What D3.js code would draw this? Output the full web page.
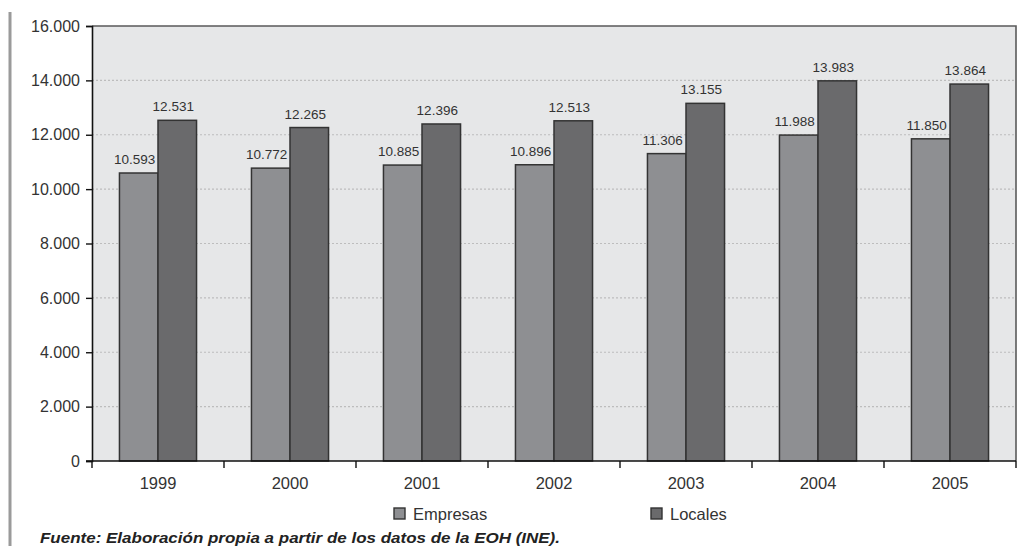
<!DOCTYPE html>
<html>
<head>
<meta charset="utf-8">
<script src="https://cdn.jsdelivr.net/npm/d3@7"></script>
<style>
  html, body { margin: 0; padding: 0; background: #fff; }
  svg { display: block; font-family: "Liberation Sans", Arial, sans-serif; }
</style>
</head>
<body>
<svg id="chart" width="1027" height="546"></svg>
<script>
// Empresas y locales por año
const years = ["1999", "2000", "2001", "2002", "2003", "2004", "2005"];
const seriesNames = ["Empresas", "Locales"];
const empresas = [10593, 10772, 10885, 10896, 11306, 11988, 11850];
const locales = [12531, 12265, 12396, 12513, 13155, 13983, 13864];
const yTicks = [0, 2000, 4000, 6000, 8000, 10000, 12000, 14000, 16000];
const sourceNote = "Fuente: Elaboración propia a partir de los datos de la EOH (INE).";

const colors = { Empresas: "#8e8f92", Locales: "#6a6a6c" };
const seriesValues = { Empresas: empresas, Locales: locales };

const svg = d3.select("#chart");
const plot = { left: 92, right: 1016, top: 26, bottom: 461 };

// Spanish-style thousands separator
const fmt = v => d3.format(",")(v).replace(/,/g, ".");

const x = d3.scaleBand().domain(years).range([plot.left, plot.right]).padding(0);
const xInner = d3.scaleBand().domain(seriesNames)
  .range([x.bandwidth() * 0.208, x.bandwidth() * 0.792]).padding(0);
const y = d3.scaleLinear().domain([0, 16000]).range([plot.bottom, plot.top]);

// page margin rule
svg.append("line")
  .attr("x1", 10).attr("x2", 10).attr("y1", 12).attr("y2", 546)
  .attr("stroke", "#9a9a9a").attr("stroke-width", 3);

// plot background
svg.append("rect")
  .attr("x", plot.left).attr("y", plot.top)
  .attr("width", plot.right - plot.left).attr("height", plot.bottom - plot.top)
  .attr("fill", "#e6e7e8");

// dotted gridlines
svg.append("g").selectAll("line")
  .data(yTicks.filter(t => t > 0 && t < 16000))
  .join("line")
  .attr("x1", plot.left).attr("x2", plot.right)
  .attr("y1", d => y(d)).attr("y2", d => y(d))
  .attr("stroke", "#bdbdbd").attr("stroke-width", 1.2)
  .attr("stroke-dasharray", "2,2");

// top and right frame
svg.append("path")
  .attr("d", `M${plot.left},${plot.top}H${plot.right}V${plot.bottom}`)
  .attr("fill", "none").attr("stroke", "#5a5a5a").attr("stroke-width", 1.6);

// bars
const groups = svg.append("g").selectAll("g")
  .data(years)
  .join("g")
  .attr("transform", d => `translate(${x(d)},0)`);

groups.selectAll("rect")
  .data((yr, i) => seriesNames.map(s => ({ s, v: seriesValues[s][i] })))
  .join("rect")
  .attr("x", d => xInner(d.s))
  .attr("y", d => y(d.v))
  .attr("width", xInner.bandwidth())
  .attr("height", d => y(0) - y(d.v))
  .attr("fill", d => colors[d.s])
  .attr("stroke", "#333")
  .attr("stroke-width", 1.5);

groups.selectAll("text")
  .data((yr, i) => seriesNames.map(s => ({ s, v: seriesValues[s][i] })))
  .join("text")
  .attr("x", d => xInner(d.s) + xInner.bandwidth() / 2 - 4)
  .attr("y", d => y(d.v) - 9)
  .attr("text-anchor", "middle")
  .attr("font-size", 13.5)
  .attr("fill", "#333")
  .text(d => fmt(d.v));

// y axis
const yAxis = svg.append("g")
  .attr("transform", `translate(${plot.left},0)`)
  .call(d3.axisLeft(y).tickValues(yTicks).tickFormat(fmt).tickSize(6).tickPadding(6));
yAxis.select(".domain").attr("stroke", "#111").attr("stroke-width", 1.6);
yAxis.selectAll(".tick line").attr("stroke", "#111").attr("stroke-width", 1.4);
yAxis.selectAll(".tick text").attr("font-size", 16).attr("fill", "#333")
  .attr("font-family", "Liberation Sans, Arial, sans-serif");

// x axis: ticks at category boundaries
const boundaries = years.map(d => x(d)).concat([plot.right]);
svg.append("line")
  .attr("x1", plot.left - 6).attr("x2", plot.right)
  .attr("y1", plot.bottom).attr("y2", plot.bottom)
  .attr("stroke", "#111").attr("stroke-width", 1.6);
svg.append("g").selectAll("line")
  .data(boundaries)
  .join("line")
  .attr("x1", d => d).attr("x2", d => d)
  .attr("y1", plot.bottom).attr("y2", plot.bottom + 7)
  .attr("stroke", "#111").attr("stroke-width", 1.4);
svg.append("g").selectAll("text")
  .data(years)
  .join("text")
  .attr("x", d => x(d) + x.bandwidth() / 2)
  .attr("y", 489)
  .attr("text-anchor", "middle")
  .attr("font-size", 16.5)
  .attr("fill", "#333")
  .text(d => d);

// legend
const legendItems = [
  { s: "Empresas", x: 394 },
  { s: "Locales", x: 651 }
];
const lg = svg.append("g").selectAll("g")
  .data(legendItems)
  .join("g")
  .attr("transform", d => `translate(${d.x},508)`);
lg.append("rect")
  .attr("width", 11).attr("height", 11)
  .attr("fill", d => colors[d.s])
  .attr("stroke", "#333").attr("stroke-width", 1.4);
lg.append("text")
  .attr("x", 19)
  .attr("y", 11.5)
  .attr("font-size", 16.5)
  .attr("fill", "#333")
  .text(d => d.s);

// source note
svg.append("text")
  .attr("x", 40).attr("y", 543)
  .attr("font-size", 15)
  .attr("font-weight", "bold")
  .attr("font-style", "italic")
  .attr("fill", "#222")
  .attr("textLength", 520)
  .attr("lengthAdjust", "spacingAndGlyphs")
  .text(sourceNote);
</script>
</body>
</html>
